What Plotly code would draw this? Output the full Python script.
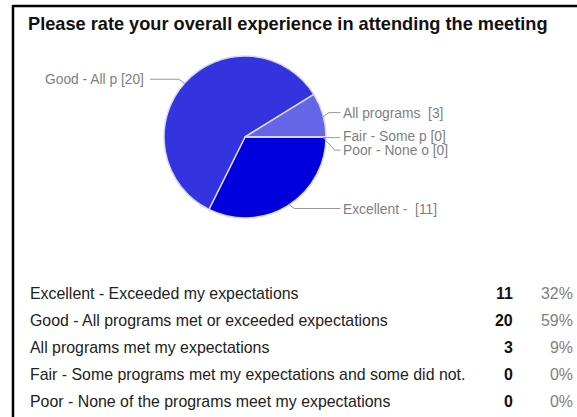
import math
import plotly.graph_objects as go

# ---------------- data ----------------
title_text = "Please rate your overall experience in attending the meeting"
categories = [
    "Excellent - Exceeded my expectations",
    "Good - All programs met or exceeded expectations",
    "All programs met my expectations",
    "Fair - Some programs met my expectations and some did not.",
    "Poor - None of the programs meet my expectations",
]
short_labels = ["Excellent - ", "Good - All p", "All programs ", "Fair - Some p", "Poor - None o"]
counts = [11, 20, 3, 0, 0]
colors = ["#0000DC", "#3333E0", "#6565E8", "#9999EE", "#CCCCF6"]

# ---------------- layout helpers (pixel space) ----------------
W, H = 577, 417
FONT = "Arial, Liberation Sans, Helvetica, sans-serif"
CX, CY, R = 245.0, 137.0, 81.0


def px(x):
    return x / W


def py(y):
    return 1 - y / H


total = sum(counts)
pcts = [round(c / total * 100) for c in counts]

fig = go.Figure()
fig.add_trace(go.Pie(
    labels=categories,
    values=counts,
    sort=False,
    direction="clockwise",
    rotation=90,
    marker=dict(colors=colors, line=dict(color="#D8D8FA", width=1.5)),
    textinfo="none",
    hoverinfo="skip",
    showlegend=False,
    domain=dict(x=[px(CX - R), px(CX + R)], y=[py(CY + R), py(CY - R)]),
))

shapes = []
annotations = []

# border (top and left)
shapes.append(dict(type="line", xref="paper", yref="paper",
                   x0=px(13), x1=px(W + 2), y0=py(6), y1=py(6),
                   line=dict(color="black", width=2.5)))
shapes.append(dict(type="line", xref="paper", yref="paper",
                   x0=px(13), x1=px(13), y0=py(5), y1=py(H + 2),
                   line=dict(color="black", width=2.5)))

# title
annotations.append(dict(text="<b>" + title_text + "</b>", xref="paper", yref="paper",
                        x=px(26), y=py(24), xanchor="left", yanchor="middle",
                        showarrow=False, font=dict(family=FONT, size=18.2, color="#111")))

# pie labels with leader lines (positions derived from slice angles)
cum = 0.0
items = []
for lab, c in zip(short_labels, counts):
    mid = (cum + c / 2) / total * 360.0
    cum += c
    th = math.radians(mid)
    ax, ay = CX + R * math.cos(th), CY + R * math.sin(th)
    side = 1 if math.cos(th) >= -1e-9 else -1
    ly = CY + (ay - CY) * 1.06
    items.append(dict(text=lab + " [" + str(c) + "]", ax=ax, ay=ay, ly=ly, side=side))

for s in (1, -1):
    grp = sorted([it for it in items if it["side"] == s], key=lambda d: d["ly"])
    for i in range(1, len(grp)):
        if grp[i]["ly"] < grp[i - 1]["ly"] + 13.5:
            grp[i]["ly"] = grp[i - 1]["ly"] + 13.5

for it in items:
    s = it["side"]
    ax, ay, ly = it["ax"], it["ay"], it["ly"]
    line_end = 338 if s == 1 else 149
    text_x = 341 if s == 1 else 146
    ex = ax + s * 8
    path = "M {:.2f},{:.2f} L {:.2f},{:.2f} L {:.2f},{:.2f}".format(
        px(ax), py(ay), px(ex), py(ly), px(line_end), py(ly))
    shapes.append(dict(type="path", xref="paper", yref="paper", path=path,
                       line=dict(color="#999999", width=1)))
    annotations.append(dict(text=it["text"].replace("  ", "\u00a0 ").replace(" [", "\u00a0["),
                            xref="paper", yref="paper",
                            x=px(text_x), y=py(ly), xanchor="left" if s == 1 else "right",
                            yanchor="middle", showarrow=False,
                            font=dict(family=FONT, size=13.8, color="#808080")))

# summary table
row_y0, row_step = 293.0, 27.2
for i, (cat, c, p) in enumerate(zip(categories, counts, pcts)):
    y = row_y0 + i * row_step
    annotations.append(dict(text=cat, xref="paper", yref="paper", x=px(28), y=py(y),
                            xanchor="left", yanchor="middle", showarrow=False,
                            font=dict(family=FONT, size=15.9, color="#222")))
    annotations.append(dict(text="<b>" + str(c) + "</b>", xref="paper", yref="paper",
                            x=px(514.5), y=py(y), xanchor="right", yanchor="middle",
                            showarrow=False, font=dict(family=FONT, size=15.9, color="#111")))
    annotations.append(dict(text=str(p) + "%", xref="paper", yref="paper",
                            x=px(575), y=py(y), xanchor="right", yanchor="middle",
                            showarrow=False, font=dict(family=FONT, size=15.9, color="#808080")))

fig.update_layout(
    width=W, height=H,
    margin=dict(l=0, r=0, t=0, b=0),
    paper_bgcolor="white", plot_bgcolor="white",
    shapes=shapes, annotations=annotations,
)

fig.write_html("out.html", config={"displayModeBar": False, "staticPlot": True},
               post_script="document.body.style.margin='0px';document.body.style.overflow='hidden';")
